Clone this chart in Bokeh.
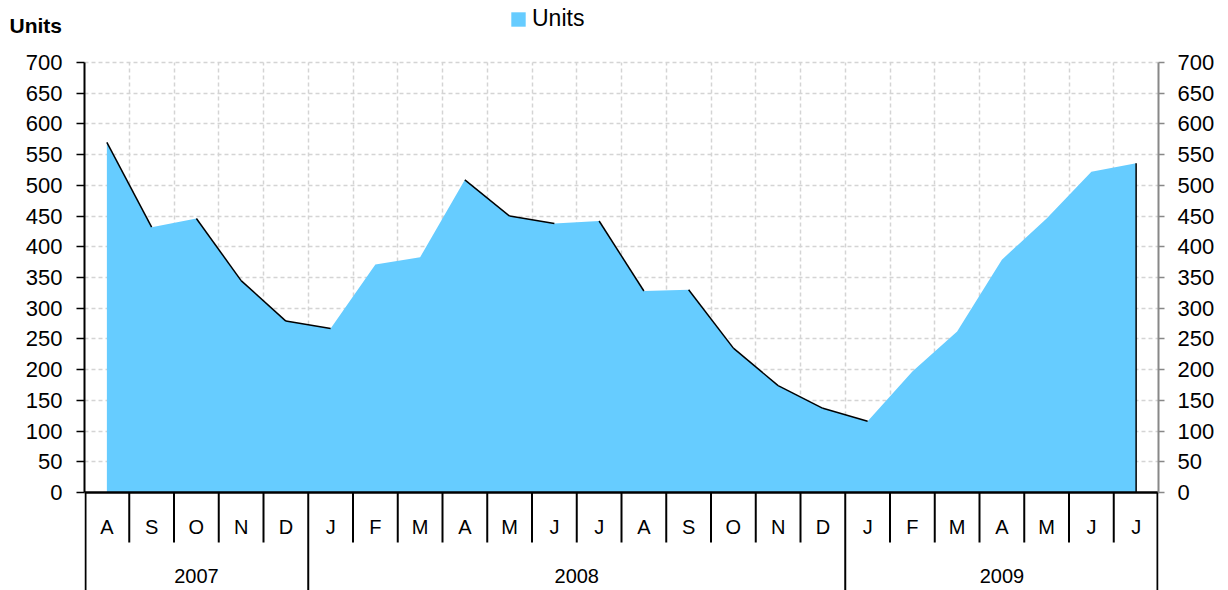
from bokeh.plotting import figure
from bokeh.models import Range1d, LinearAxis, FixedTicker, Legend, LegendItem, Title, ColumnDataSource
from bokeh.core.properties import value
from bokeh.embed import file_html
from bokeh.resources import INLINE

months = ["A", "S", "O", "N", "D", "J", "F", "M", "A", "M", "J", "J",
          "A", "S", "O", "N", "D", "J", "F", "M", "A", "M", "J", "J"]
years = ["2007", "2008", "2009"]
year_counts = [5, 12, 7]
units = [570, 432, 446, 345, 279, 267, 371, 383, 509, 450, 438, 442,
         328, 330, 235, 174, 137, 116, 197, 262, 379, 446, 522, 536]
y_ticks = list(range(0, 701, 50))

FONT = "Liberation Sans"
FILL = "#66CCFF"
n = len(units)
xs = list(range(n))

# layout geometry (pixels)
W, H = 1224, 590
FRAME_L, FRAME_R = 84, 1158
PLOT_TOP, PLOT_BOT = 62, 492
PX = (PLOT_BOT - PLOT_TOP) / 700.0
CAT_PX = (FRAME_R - FRAME_L) / n
y_start = -(H - PLOT_BOT) / PX
y_end = 700 + PLOT_TOP / PX

def py(pix):
    """page pixel row -> data y"""
    return (PLOT_BOT - pix) / PX

title = Title(text="Units", align="left", vertical_align="bottom", offset=9 - FRAME_L, standoff=-72,
              text_font=FONT, text_font_style="bold", text_font_size="21px", text_color="black")

p = figure(width=W, height=H, x_range=Range1d(-0.5, n - 0.5), y_range=Range1d(y_start, y_end),
           output_backend="svg", toolbar_location=None, x_axis_location=None, title=title,
           min_border_left=FRAME_L, min_border_right=W - FRAME_R, min_border_top=0, min_border_bottom=0)
p.outline_line_color = None
p.background_fill_color = "white"

# grids
p.ygrid.ticker = FixedTicker(ticks=y_ticks[1:])
p.xgrid.ticker = FixedTicker(ticks=[i + 0.5 for i in range(n - 1)])
manual_vgrid = False
try:
    p.xgrid.cross_bounds = (0, 700)
except Exception:
    manual_vgrid = True
for g in (p.xgrid, p.ygrid):
    g.grid_line_color = "#d4d4d4"
    g.grid_line_dash = "4 3"
    g.grid_line_width = 1.5
if manual_vgrid:
    p.xgrid.visible = False
    vx = [i + 0.5 for i in range(n - 1)]
    p.segment(x0=vx, y0=[0] * len(vx), x1=vx, y1=[700] * len(vx), line_color="#d4d4d4",
              line_dash="4 3", line_width=1.5, level="underlay")

# left axis
ax = p.yaxis[0]
ax.ticker = FixedTicker(ticks=y_ticks)
ax.bounds = (0, 700)
ax.axis_line_color = "black"
ax.axis_line_width = 2
ax.major_tick_line_color = "black"
ax.major_tick_line_width = 1.5
ax.major_tick_out = 8
ax.major_tick_in = 0
ax.minor_tick_line_color = None
ax.major_label_standoff = 14
ax.major_label_text_font = FONT
ax.major_label_text_font_size = "22px"
ax.major_label_text_color = "black"

# right axis
rax = LinearAxis(ticker=FixedTicker(ticks=y_ticks), bounds=(0, 700))
rax.axis_line_color = "#888888"
rax.axis_line_width = 2
rax.major_tick_line_color = "#888888"
rax.major_tick_line_width = 1.5
rax.major_tick_out = 6
rax.major_tick_in = 0
rax.minor_tick_line_color = None
rax.major_label_standoff = 13
rax.major_label_text_font = FONT
rax.major_label_text_font_size = "22px"
rax.major_label_text_color = "black"
p.add_layout(rax, "right")

src = ColumnDataSource(dict(x=xs, y=units))
area = p.varea(x="x", y1=0, y2="y", source=src, fill_color=FILL)

# dark outline on descending segments and the right edge
x0, y0, x1, y1 = [], [], [], []
for i in range(n - 1):
    if units[i + 1] < units[i]:
        x0.append(xs[i]); y0.append(units[i]); x1.append(xs[i + 1]); y1.append(units[i + 1])
x0.append(xs[-1]); y0.append(0); x1.append(xs[-1]); y1.append(units[-1])
p.segment(x0=x0, y0=y0, x1=x1, y1=y1, line_color="black", line_width=1.5)

# category axis (two levels)
year_bounds = [-0.5]
for c in year_counts:
    year_bounds.append(year_bounds[-1] + c)
month_bounds = [i + 0.5 for i in range(n - 1) if (i + 0.5) not in year_bounds]
# keep the outer separators fully inside the frame
edge = 1.0 / CAT_PX
year_lines = [b + edge if b == year_bounds[0] else (b - edge if b == year_bounds[-1] else b) for b in year_bounds]
p.segment(x0=[-0.5], y0=[0], x1=[n - 0.5], y1=[0], line_color="black", line_width=2.5)
p.segment(x0=month_bounds, y0=[0] * len(month_bounds), x1=month_bounds, y1=[py(542)] * len(month_bounds),
          line_color="black", line_width=2)
p.segment(x0=year_lines, y0=[0] * len(year_lines), x1=year_lines, y1=[y_start] * len(year_lines),
          line_color="black", line_width=2)
p.text(x=xs, y=[py(526)] * n, text=months, text_font=value(FONT), text_font_size="20px",
       text_align="center", text_baseline="middle", text_color="black")
year_centers = [(year_bounds[i] + year_bounds[i + 1]) / 2 for i in range(len(years))]
p.text(x=year_centers, y=[py(575)] * len(years), text=years, text_font=value(FONT), text_font_size="20px",
       text_align="center", text_baseline="middle", text_color="black")

legend = Legend(items=[LegendItem(label="Units", renderers=[area])], location=(425, 558),
                orientation="horizontal", padding=0, margin=0, border_line_color=None,
                background_fill_alpha=0, glyph_width=18, glyph_height=18, label_standoff=5,
                label_text_font=FONT, label_text_font_size="23px", label_text_color="black")
p.add_layout(legend, "center")

open("out.html", "w").write(file_html(p, INLINE))
